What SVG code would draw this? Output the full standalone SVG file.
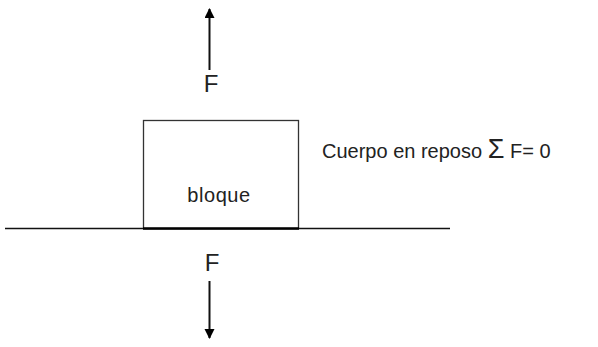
<svg xmlns="http://www.w3.org/2000/svg" width="598" height="347" viewBox="0 0 598 347">
<style>
.t{font-family:"Liberation Sans",Arial,sans-serif;fill:#222;}
.ln{stroke:#111;stroke-width:2;fill:none;}
</style>
<defs>
<marker id="ah" markerWidth="10" markerHeight="14" refX="9" refY="5" orient="auto" markerUnits="userSpaceOnUse">
<path d="M0,0 L10,5 L0,10 Z" fill="#000"/>
</marker>
</defs>
<rect width="598" height="347" fill="#fff"/>
<g id="ground">
<line x1="5" y1="228.5" x2="450" y2="228.5" stroke="#111" stroke-width="1.5"/>
</g>
<g id="bloque">
<rect x="143.5" y="120.5" width="155" height="108" fill="#fff" stroke="#333" stroke-width="1.3"/>
<line x1="143" y1="228.5" x2="299" y2="228.5" stroke="#000" stroke-width="2.5"/>
<text class="t" x="219" y="202" font-size="20" letter-spacing="0.6" text-anchor="middle">bloque</text>
</g>
<g id="label-top">
<text class="t" x="211" y="92" font-size="24" text-anchor="middle">F</text>
</g>
<g id="label-bottom">
<text class="t" x="212" y="271" font-size="24" text-anchor="middle">F</text>
</g>
<g id="note">
<text class="t" x="322" y="158" font-size="20">Cuerpo en reposo <tspan font-size="27">Σ</tspan> F= 0</text>
</g>
<g id="connectors">
<line class="ln" x1="209.5" y1="70" x2="209.5" y2="9" marker-end="url(#ah)"/>
<line class="ln" x1="209.5" y1="281" x2="209.5" y2="338" marker-end="url(#ah)"/>
</g>
</svg>
